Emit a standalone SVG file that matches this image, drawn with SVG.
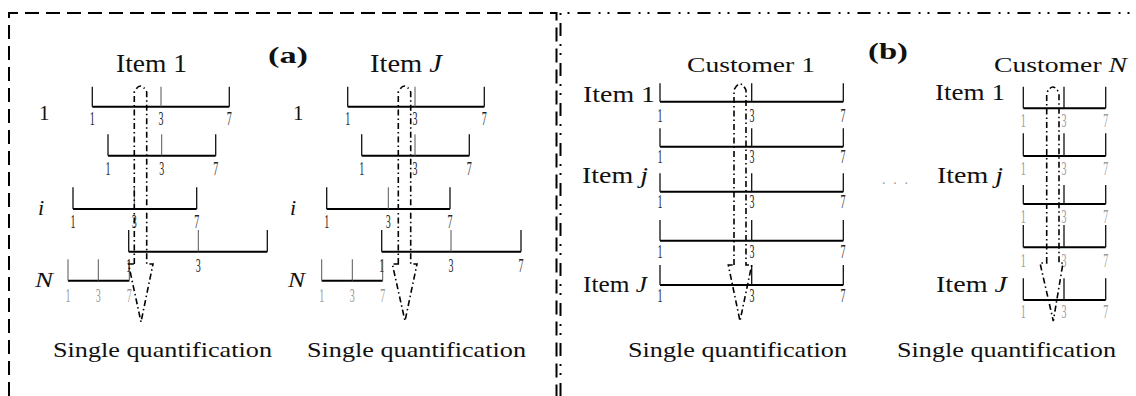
<svg xmlns="http://www.w3.org/2000/svg" width="1136" height="396" viewBox="0 0 1136 396">
<style>
.bg{fill:#fff}
.hl{stroke:#000;stroke-width:2;fill:none}
.tk{stroke:#111;stroke-width:1.3;fill:none}
.tm{stroke:#555;stroke-width:1;fill:none}
.d{font-family:"Liberation Serif","Times New Roman",serif;font-size:18px;fill:#222;text-anchor:middle}
.dg{fill:#999}
.t{font-family:"Liberation Serif","Times New Roman",serif;fill:#111}
.b{font-weight:bold}
.arr{fill:none;stroke:#000;stroke-width:1.6;stroke-dasharray:6 3 1.5 3}
.fa{fill:none;stroke:#000;stroke-width:2;stroke-dasharray:14 7}
.fb{fill:none;stroke:#000;stroke-width:2;stroke-dasharray:13 8 2 7 2 8}
</style>
<rect class="bg" x="0" y="0" width="1136" height="396"/>

<g id="frames">
<path class="fa" d="M9,396 V13 H556.5 V396"/>
<path class="fb" d="M560.5,396 V13 H1136"/>
</g>

<g id="panel-a-item1">
<text class="t" x="116" y="72" font-size="26" textLength="71" lengthAdjust="spacingAndGlyphs">Item 1</text>
<text class="t b" x="268" y="63" font-size="24" textLength="40" lengthAdjust="spacingAndGlyphs">(a)</text>
<text class="t" x="39" y="120" font-size="21">1</text>
<text class="t" x="38" y="215" font-size="22" font-style="italic">i</text>
<text class="t" x="35" y="287" font-size="21" font-style="italic" textLength="18" lengthAdjust="spacingAndGlyphs">N</text>
<path class="hl" d="M92.3,106.7 H229.3"/><path class="tk" d="M92.3,86.7 V106.7 M229.3,86.7 V106.7"/><path class="tm" d="M161,86.7 V106.7"/>
<text class="d" x="92.3" y="125" textLength="5" lengthAdjust="spacingAndGlyphs">1</text><text class="d" x="161" y="125" textLength="5" lengthAdjust="spacingAndGlyphs">3</text><text class="d" x="229.3" y="125" textLength="5" lengthAdjust="spacingAndGlyphs">7</text>
<path class="hl" d="M108,155.7 H215.7"/><path class="tk" d="M108,134.3 V155.7 M215.7,134.3 V155.7"/><path class="tm" d="M161.7,134.3 V155.7"/>
<text class="d" x="108" y="175" textLength="5" lengthAdjust="spacingAndGlyphs">1</text><text class="d" x="161.7" y="175" textLength="5" lengthAdjust="spacingAndGlyphs">3</text><text class="d" x="215.7" y="175" textLength="5" lengthAdjust="spacingAndGlyphs">7</text>
<path class="hl" d="M73,209 H196.7"/><path class="tk" d="M73,187.3 V209 M196.7,187.3 V209"/><path class="tm" d="M134.3,187.3 V209"/>
<text class="d" x="73" y="228.3" textLength="5" lengthAdjust="spacingAndGlyphs">1</text><text class="d" x="134.3" y="228.3" textLength="5" lengthAdjust="spacingAndGlyphs">3</text><text class="d" x="196.7" y="228.3" textLength="5" lengthAdjust="spacingAndGlyphs">7</text>
<path class="hl" d="M128.7,251.7 H267.3"/><path class="tk" d="M128.7,230 V251.7 M267.3,230 V251.7"/><path class="tm" d="M198.3,230 V251.7"/>
<text class="d" x="128.7" y="271.7" textLength="5" lengthAdjust="spacingAndGlyphs">1</text><text class="d" x="198.3" y="271.7" textLength="5" lengthAdjust="spacingAndGlyphs">3</text>
<path class="hl" d="M68,280.7 H129.3"/><path class="tm" d="M68,259.3 V280.7 M129.3,259.3 V280.7 M98.3,259.3 V280.7"/>
<text class="d dg" x="68" y="301.7" textLength="5" lengthAdjust="spacingAndGlyphs">1</text><text class="d dg" x="98.3" y="301.7" textLength="5" lengthAdjust="spacingAndGlyphs">3</text><text class="d dg" x="129.3" y="301.7" textLength="5" lengthAdjust="spacingAndGlyphs">7</text>
<text class="t" x="53" y="357" font-size="21" textLength="219" lengthAdjust="spacingAndGlyphs">Single quantification</text>
</g>

<g id="panel-a-itemJ">
<text class="t" x="370" y="72" font-size="26" textLength="72" lengthAdjust="spacingAndGlyphs">Item <tspan font-style="italic">J</tspan></text>
<text class="t" x="293" y="120" font-size="21">1</text>
<text class="t" x="290" y="215" font-size="22" font-style="italic">i</text>
<text class="t" x="288" y="287" font-size="21" font-style="italic" textLength="17" lengthAdjust="spacingAndGlyphs">N</text>
<path class="hl" d="M347.7,106.7 H484.3"/><path class="tk" d="M347.7,86.7 V106.7 M484.3,86.7 V106.7"/><path class="tm" d="M415,86.7 V106.7"/>
<text class="d" x="347.7" y="125" textLength="5" lengthAdjust="spacingAndGlyphs">1</text><text class="d" x="415" y="125" textLength="5" lengthAdjust="spacingAndGlyphs">3</text><text class="d" x="484.3" y="125" textLength="5" lengthAdjust="spacingAndGlyphs">7</text>
<path class="hl" d="M361.7,155.7 H469.3"/><path class="tk" d="M361.7,134.3 V155.7 M469.3,134.3 V155.7"/><path class="tm" d="M415,134.3 V155.7"/>
<text class="d" x="361.7" y="175" textLength="5" lengthAdjust="spacingAndGlyphs">1</text><text class="d" x="415" y="175" textLength="5" lengthAdjust="spacingAndGlyphs">3</text><text class="d" x="469.3" y="175" textLength="5" lengthAdjust="spacingAndGlyphs">7</text>
<path class="hl" d="M326.7,209 H450"/><path class="tk" d="M326.7,187.3 V209 M450,187.3 V209"/><path class="tm" d="M388.3,187.3 V209"/>
<text class="d" x="326.7" y="228.3" textLength="5" lengthAdjust="spacingAndGlyphs">1</text><text class="d" x="388.3" y="228.3" textLength="5" lengthAdjust="spacingAndGlyphs">3</text><text class="d" x="450" y="228.3" textLength="5" lengthAdjust="spacingAndGlyphs">7</text>
<path class="hl" d="M381.7,251.7 H521"/><path class="tk" d="M381.7,230 V251.7 M521,230 V251.7"/><path class="tm" d="M451,230 V251.7"/>
<text class="d" x="381.7" y="271.7" textLength="5" lengthAdjust="spacingAndGlyphs">1</text><text class="d" x="451" y="271.7" textLength="5" lengthAdjust="spacingAndGlyphs">3</text><text class="d" x="521" y="271.7" textLength="5" lengthAdjust="spacingAndGlyphs">7</text>
<path class="hl" d="M321.7,280.7 H382.7"/><path class="tm" d="M321.7,259.3 V280.7 M382.7,259.3 V280.7 M352.3,259.3 V280.7"/>
<text class="d dg" x="321.7" y="301.7" textLength="5" lengthAdjust="spacingAndGlyphs">1</text><text class="d dg" x="352.3" y="301.7" textLength="5" lengthAdjust="spacingAndGlyphs">3</text><text class="d dg" x="382.7" y="301.7" textLength="5" lengthAdjust="spacingAndGlyphs">7</text>
<text class="t" x="307" y="357" font-size="21" textLength="219" lengthAdjust="spacingAndGlyphs">Single quantification</text>
</g>

<g id="panel-b-customer1">
<text class="t b" x="868" y="59" font-size="24" textLength="40" lengthAdjust="spacingAndGlyphs">(b)</text>
<text class="t" x="687" y="72" font-size="21" textLength="128" lengthAdjust="spacingAndGlyphs">Customer 1</text>
<text class="t" x="583" y="102" font-size="23" textLength="72" lengthAdjust="spacingAndGlyphs">Item 1</text>
<text class="t" x="582" y="183" font-size="23" textLength="66" lengthAdjust="spacingAndGlyphs">Item <tspan font-style="italic">j</tspan></text>
<text class="t" x="583" y="292" font-size="23" textLength="64" lengthAdjust="spacingAndGlyphs">Item <tspan font-style="italic">J</tspan></text>
<path class="hl" d="M660,101.7 H843.3 M660,146.7 H843.3 M660,191.7 H843.3 M660,240.7 H843.3 M660,285 H843.3"/>
<path class="tk" d="M660,83.3 V101.7 M751.7,83.3 V101.7 M843.3,83.3 V101.7 M660,128.3 V146.7 M751.7,128.3 V146.7 M843.3,128.3 V146.7 M660,173.3 V191.7 M751.7,173.3 V191.7 M843.3,173.3 V191.7 M660,220 V240.7 M751.7,220 V240.7 M843.3,220 V240.7 M660,265 V285 M751.7,265 V285 M843.3,265 V285"/>
<text class="d" x="660" y="121.7" textLength="5" lengthAdjust="spacingAndGlyphs">1</text><text class="d" x="752" y="121.7" textLength="5" lengthAdjust="spacingAndGlyphs">3</text><text class="d" x="843" y="121.7" textLength="5" lengthAdjust="spacingAndGlyphs">7</text>
<text class="d" x="660" y="163.3" textLength="5" lengthAdjust="spacingAndGlyphs">1</text><text class="d" x="752" y="163.3" textLength="5" lengthAdjust="spacingAndGlyphs">3</text><text class="d" x="843" y="163.3" textLength="5" lengthAdjust="spacingAndGlyphs">7</text>
<text class="d" x="660" y="208.3" textLength="5" lengthAdjust="spacingAndGlyphs">1</text><text class="d" x="752" y="208.3" textLength="5" lengthAdjust="spacingAndGlyphs">3</text><text class="d" x="843" y="208.3" textLength="5" lengthAdjust="spacingAndGlyphs">7</text>
<text class="d" x="660" y="258.3" textLength="5" lengthAdjust="spacingAndGlyphs">1</text><text class="d" x="752" y="258.3" textLength="5" lengthAdjust="spacingAndGlyphs">3</text><text class="d" x="843" y="258.3" textLength="5" lengthAdjust="spacingAndGlyphs">7</text>
<text class="d" x="660" y="301.7" textLength="5" lengthAdjust="spacingAndGlyphs">1</text><text class="d" x="752" y="301.7" textLength="5" lengthAdjust="spacingAndGlyphs">3</text><text class="d" x="843" y="301.7" textLength="5" lengthAdjust="spacingAndGlyphs">7</text>
<text class="t" x="628" y="357" font-size="21" textLength="219" lengthAdjust="spacingAndGlyphs">Single quantification</text>
</g>

<g id="panel-b-ellipsis">
<text class="t" x="882" y="184" font-size="14" style="fill:#999" textLength="26" lengthAdjust="spacing">...</text>
</g>

<g id="panel-b-customerN">
<text class="t" x="994" y="72" font-size="21" textLength="133" lengthAdjust="spacingAndGlyphs">Customer <tspan font-style="italic">N</tspan></text>
<text class="t" x="935" y="100" font-size="23" textLength="70" lengthAdjust="spacingAndGlyphs">Item 1</text>
<text class="t" x="937" y="183" font-size="23" textLength="66" lengthAdjust="spacingAndGlyphs">Item <tspan font-style="italic">j</tspan></text>
<text class="t" x="936" y="292" font-size="23" textLength="71" lengthAdjust="spacingAndGlyphs">Item <tspan font-style="italic">J</tspan></text>
<path class="hl" d="M1023.3,108.3 H1105.7 M1023.3,156 H1105.7 M1023.3,204 H1105.7 M1023.3,247.3 H1105.7 M1023.3,300 H1105.7"/>
<path class="tk" d="M1023.3,86.7 V108.3 M1064,86.7 V108.3 M1105.7,86.7 V108.3 M1023.3,133.3 V156 M1064,133.3 V156 M1105.7,133.3 V156 M1023.3,185 V204 M1064,185 V204 M1105.7,185 V204 M1023.3,225 V247.3 M1064,225 V247.3 M1105.7,225 V247.3 M1023.3,278.3 V300 M1064,278.3 V300 M1105.7,278.3 V300"/>
<text class="d dg" x="1023.3" y="126.7" textLength="5" lengthAdjust="spacingAndGlyphs">1</text><text class="d dg" x="1064" y="126.7" textLength="5" lengthAdjust="spacingAndGlyphs">3</text><text class="d dg" x="1105.7" y="126.7" textLength="5" lengthAdjust="spacingAndGlyphs">7</text>
<text class="d dg" x="1023.3" y="175" textLength="5" lengthAdjust="spacingAndGlyphs">1</text><text class="d dg" x="1064" y="175" textLength="5" lengthAdjust="spacingAndGlyphs">3</text><text class="d dg" x="1105.7" y="175" textLength="5" lengthAdjust="spacingAndGlyphs">7</text>
<text class="d dg" x="1023.3" y="223.3" textLength="5" lengthAdjust="spacingAndGlyphs">1</text><text class="d dg" x="1064" y="223.3" textLength="5" lengthAdjust="spacingAndGlyphs">3</text><text class="d dg" x="1105.7" y="223.3" textLength="5" lengthAdjust="spacingAndGlyphs">7</text>
<text class="d dg" x="1023.3" y="266.7" textLength="5" lengthAdjust="spacingAndGlyphs">1</text><text class="d dg" x="1064" y="266.7" textLength="5" lengthAdjust="spacingAndGlyphs">3</text><text class="d dg" x="1105.7" y="266.7" textLength="5" lengthAdjust="spacingAndGlyphs">7</text>
<text class="d dg" x="1023.3" y="318.3" textLength="5" lengthAdjust="spacingAndGlyphs">1</text><text class="d dg" x="1064" y="318.3" textLength="5" lengthAdjust="spacingAndGlyphs">3</text><text class="d dg" x="1105.7" y="318.3" textLength="5" lengthAdjust="spacingAndGlyphs">7</text>
<text class="t" x="897" y="357" font-size="21" textLength="219" lengthAdjust="spacingAndGlyphs">Single quantification</text>
</g>

<g id="connectors">
<path class="arr" d="M134.3,264 V92 Q140.5,80 146.7,92 V264 H153 L141,322 L128.5,264 Z"/>
<path class="arr" d="M398.3,264 V92 Q404.5,80 410.7,92 V264 H417 L405,321 L392.3,264 Z"/>
<path class="arr" d="M734,265 V90 Q740,78 746,90 V265 H751.7 L740,321 L728.3,265 Z"/>
<path class="arr" d="M1046.7,263 V93 Q1052.9,81 1059,93 V263 H1063 L1053.3,321 L1040,263 Z"/>
</g>
</svg>
